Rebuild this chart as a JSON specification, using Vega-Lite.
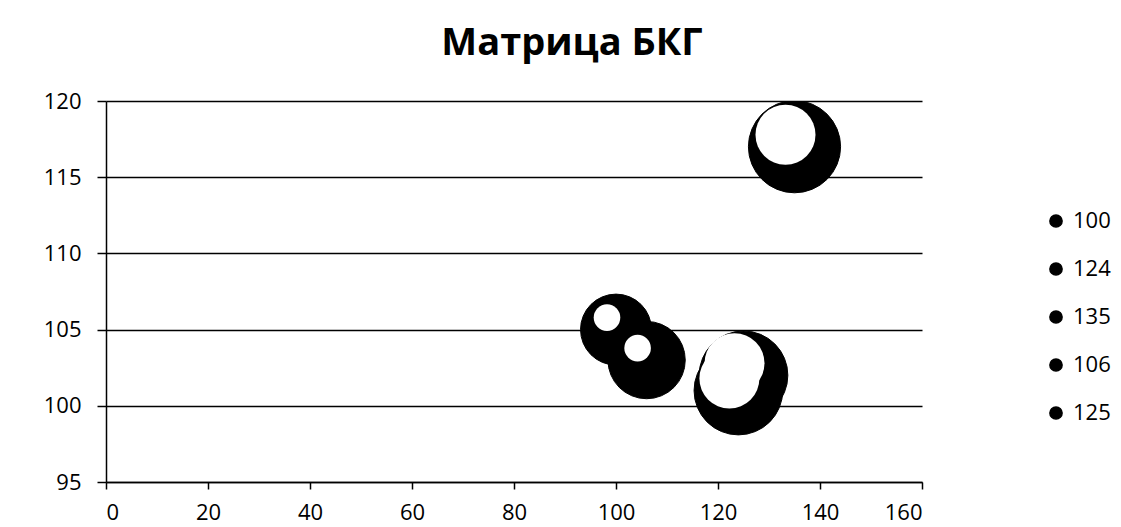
{
  "$schema": "https://vega.github.io/schema/vega-lite/v6.json",
  "autosize": {"type": "none"},
  "padding": {"left": 106, "top": 101, "right": 199, "bottom": 45},
  "width": 816,
  "height": 381,
  "background": "white",
  "title": {
    "text": "Матрица БКГ",
    "font": "Open Sans",
    "fontSize": 38,
    "fontWeight": "bold",
    "color": "black",
    "anchor": "middle",
    "dx": 58,
    "dy": 33,
    "baseline": "alphabetic",
    "offset": 30
  },
  "config": {
    "view": {"stroke": null},
    "axis": {
      "labelFont": "Open Sans",
      "labelFontSize": 22,
      "labelColor": "black",
      "domainColor": "black",
      "domainWidth": 1.5,
      "tickColor": "black",
      "tickWidth": 1.5,
      "gridColor": "black",
      "gridWidth": 1.4,
      "gridOpacity": 1,
      "title": null
    },
    "legend": {
      "labelFont": "Open Sans",
      "labelFontSize": 22,
      "labelColor": "black"
    }
  },
  "data": {
    "values": [
      {"name": "100", "x": 100, "y": 105, "bubble": 16},
      {"name": "106", "x": 106, "y": 103, "bubble": 19},
      {"name": "124", "x": 124, "y": 101, "bubble": 25},
      {"name": "125", "x": 125, "y": 102, "bubble": 25},
      {"name": "135", "x": 135, "y": 117, "bubble": 27}
    ]
  },
  "encoding": {
    "x": {
      "field": "x",
      "type": "quantitative",
      "scale": {"domain": [0, 160], "nice": false, "zero": false},
      "axis": {"values": [0, 20, 40, 60, 80, 100, 120, 140, 160], "grid": false, "tickSize": 7, "labelPadding": 13}
    },
    "y": {
      "field": "y",
      "type": "quantitative",
      "scale": {"domain": [95, 120], "nice": false, "zero": false},
      "axis": {"values": [95, 100, 105, 110, 115, 120], "grid": true, "tickSize": 9, "labelPadding": 16}
    }
  },
  "layer": [
    {
      "mark": {"type": "point", "shape": "circle", "filled": true, "opacity": 1, "stroke": "black", "strokeWidth": 1, "clip": true},
      "encoding": {
        "color": {
          "field": "name",
          "type": "nominal",
          "scale": {"domain": ["100", "124", "135", "106", "125"], "range": ["black", "black", "black", "black", "black"]},
          "legend": {
            "title": null,
            "orient": "none",
            "legendX": 939,
            "legendY": 109,
            "symbolType": "circle",
            "symbolSize": 150,
            "symbolFillColor": "black",
            "symbolStrokeColor": "black",
            "symbolOpacity": 1,
            "rowPadding": 26,
            "labelOffset": 6
          }
        },
        "size": {
          "field": "bubble",
          "type": "quantitative",
          "scale": {"type": "linear", "domain": [0, 27], "range": [0, 8495], "zero": true},
          "legend": null
        }
      }
    },
    {
      "mark": {"type": "point", "shape": "circle", "filled": true, "color": "white", "opacity": 1, "xOffset": -9, "yOffset": -12, "clip": true},
      "encoding": {
        "size": {
          "field": "bubble",
          "type": "quantitative",
          "scale": {"type": "threshold", "domain": [22], "range": [707, 3600]},
          "legend": null
        }
      }
    }
  ],
  "resolve": {"scale": {"size": "independent"}}
}
